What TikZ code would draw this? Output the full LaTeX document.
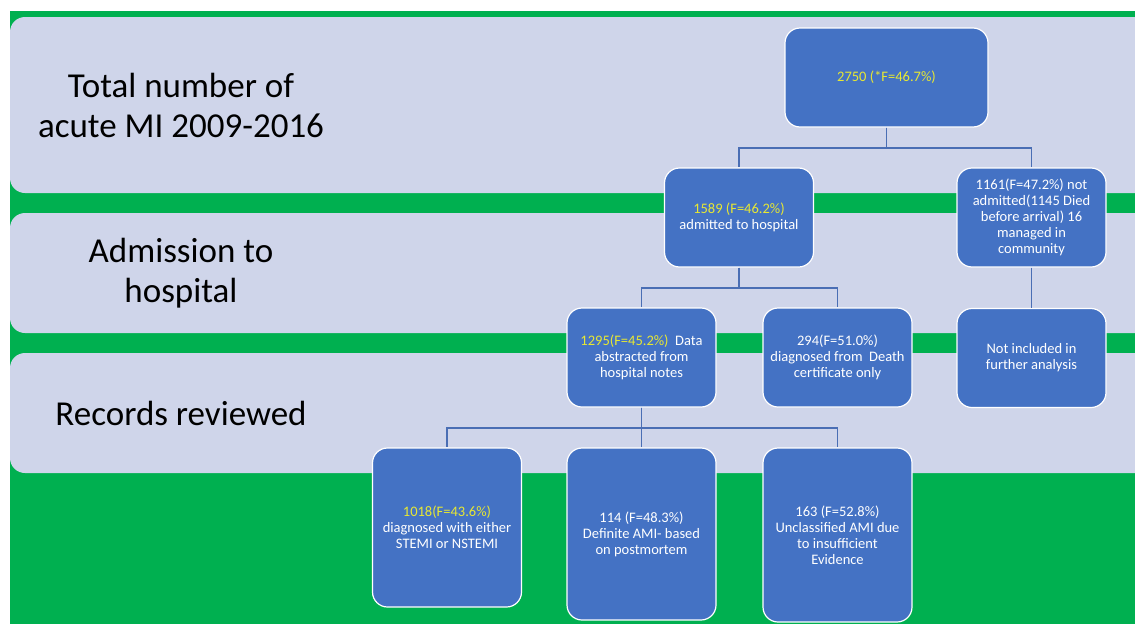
\documentclass[tikz,border=0pt]{standalone}
\usepackage{fontspec}
\setmainfont{Carlito}
\definecolor{balken}{RGB}{0,176,80}
\definecolor{lavendel}{RGB}{207,213,234}
\definecolor{kastenblau}{RGB}{68,114,196}
\definecolor{linienblau}{RGB}{74,110,180}
\definecolor{zahlgelb}{RGB}{232,232,50}
\newcommand{\zahl}[1]{\textcolor{zahlgelb}{#1}}
\tikzset{
    punkt/.style={
           rectangle,
           rounded corners=15pt,
           draw=white, line width=1.2pt,
           fill=kastenblau,
           text=white,
           minimum width=149pt,
           minimum height=99pt,
           inner sep=2pt,
           font=\fontsize{14.5}{16}\selectfont,
           align=center},
    punktgross/.style={punkt, minimum width=203pt},
    band/.style={fill=lavendel, rounded corners=15pt},% hellblauer streifen
    bandtext/.style={align=center, text=black,
           font=\fontsize{35}{40}\selectfont},
    verbind/.style={draw=linienblau, line width=1.4pt}
    }

\begin{document}
\begin{tikzpicture}[x=1pt,y=-1pt]
\useasboundingbox (0,0) rectangle (1135,624);
\clip (0,0) rectangle (1135,624);
\fill[balken] (10,11) rectangle (1135,624);
\fill[band] (10,17) rectangle (1180,193);
\fill[band] (10,213) rectangle (1180,333);
\fill[band] (10,353) rectangle (1180,473);
\node[bandtext] (lab1) at (181,105) {Total number of\\acute MI 2009-2016};
\node[bandtext] (lab2) at (181,273) {Admission to\\hospital};
\node[bandtext] (lab3) at (181,413) {Records reviewed};

\node[punktgross] (top) at (886.5,77.5) {\zahl{2750 (*F=46.7\%)}};
\node[punkt] (adm) at (739,217.5) {\zahl{1589 (F=46.2\%)}\\admitted to hospital};
\node[punkt] (notadm) at (1031.5,217.5) {1161(F=47.2\%) not\\admitted(1145 Died\\before arrival) 16\\managed in\\community};
\node[punkt] (notes) at (641.5,357.5) {\zahl{1295(F=45.2\%)}\ \ Data\\abstracted from\\hospital notes};
\node[punkt] (death) at (837.5,357.5) {294(F=51.0\%)\\diagnosed from\ \ Death\\certificate only};
\node[punkt] (notinc) at (1031.5,358) {Not included in\\further analysis};
\node[punkt, minimum height=159pt] (stemi) at (447,527.5) {\zahl{1018(F=43.6\%)}\\diagnosed with either\\STEMI or NSTEMI};
\node[punkt, minimum height=172pt] (pm) at (641.5,534) {114 (F=48.3\%)\\Definite AMI- based\\on postmortem};
\node[punkt, minimum height=174pt] (uncl) at (837.5,535) {163 (F=52.8\%)\\Unclassified AMI due\\to insufficient\\Evidence};

\draw[verbind] (top.south) -- ++(0,20.5) -| (adm.north);
\draw[verbind] (top.south) -- ++(0,20.5) -| (notadm.north);
\draw[verbind] (adm.south) -- ++(0,20.5) -| (notes.north);
\draw[verbind] (adm.south) -- ++(0,20.5) -| (death.north);
\draw[verbind] (notadm.south) -- (notinc.north);
\draw[verbind] (notes.south) -- ++(0,20.5) -| (stemi.north);
\draw[verbind] (notes.south) -- (pm.north);
\draw[verbind] (notes.south) -- ++(0,20.5) -| (uncl.north);
\end{tikzpicture}
\end{document}
